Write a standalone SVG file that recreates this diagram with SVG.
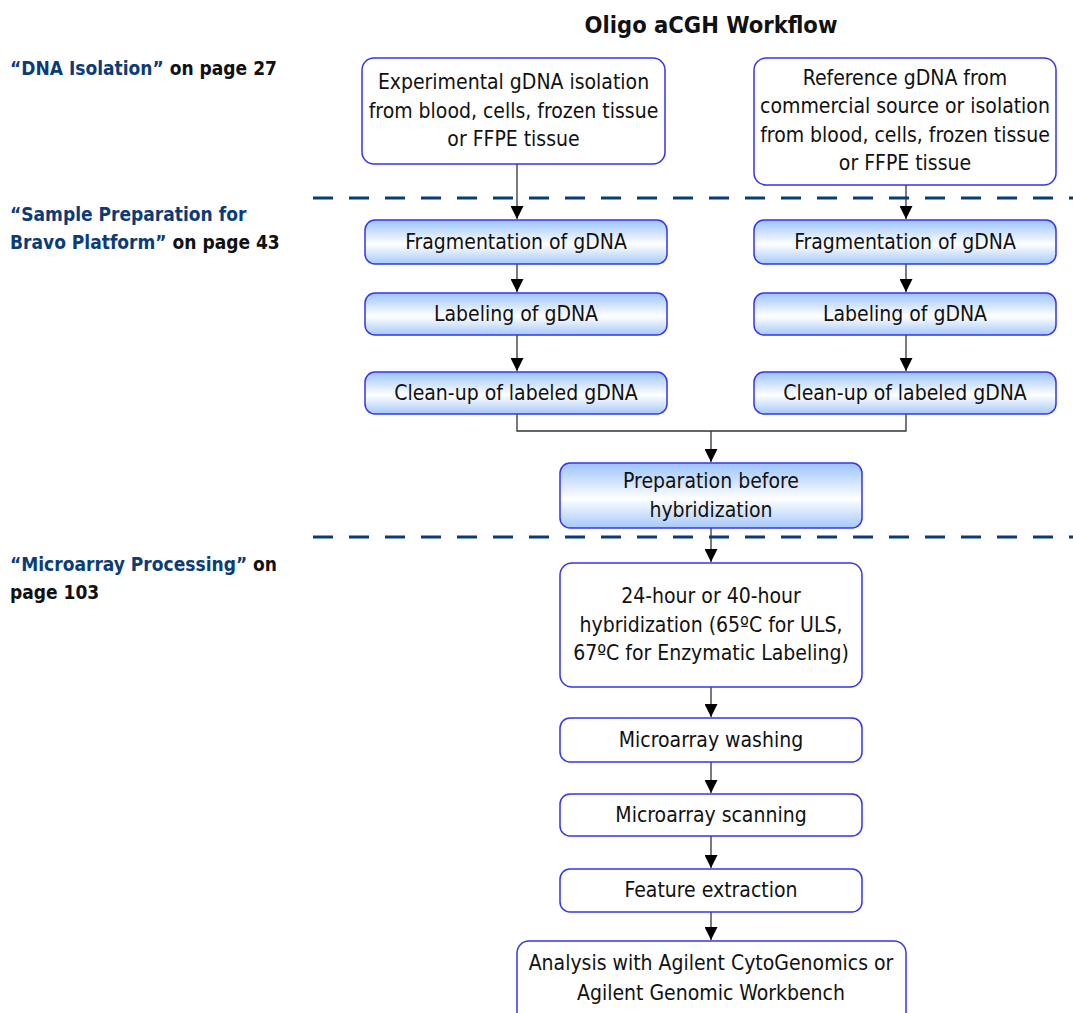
<svg xmlns="http://www.w3.org/2000/svg" width="1073" height="1013" viewBox="0 0 1073 1013">
<style>
.t{font-family:"Liberation Sans Narrow","DejaVu Sans Condensed","Liberation Sans",sans-serif;font-size:21px;fill:#111;text-anchor:middle}
.h{font-family:"Liberation Sans Narrow","DejaVu Sans Condensed","Liberation Sans",sans-serif;font-weight:bold;font-size:19px;fill:#111}
.b{fill:#0b3c78}
.box{fill:#fff;stroke:#3535f0;stroke-width:1.5}
.gbox{fill:url(#g);stroke:#3535f0;stroke-width:1.5}
.c{fill:none;stroke:#333;stroke-width:1.3}
.d{stroke:#0b3c78;stroke-width:3;stroke-dasharray:20 16}
</style>
<defs>
<linearGradient id="g" x1="0" y1="0" x2="0" y2="1">
<stop offset="0" stop-color="#9cc3fb"/>
<stop offset="0.55" stop-color="#ffffff"/>
<stop offset="1" stop-color="#a6c9fb"/>
</linearGradient>
<marker id="a" markerUnits="userSpaceOnUse" markerWidth="14" markerHeight="13" refX="13" refY="6.5" orient="auto">
<path d="M0,0 L13,6.5 L0,13 Z" fill="#000"/>
</marker>
</defs>
<rect width="1073" height="1013" fill="#fff"/>
<text x="711" y="33" class="h" style="font-size:23.5px;text-anchor:middle">Oligo aCGH Workflow</text>
<g id="labels">
<text x="10" y="75" class="h"><tspan class="b">“DNA Isolation”</tspan> on page 27</text>
<text x="10" y="221" class="h"><tspan class="b">“Sample Preparation for</tspan></text>
<text x="10" y="249" class="h"><tspan class="b">Bravo Platform”</tspan> on page 43</text>
<text x="10" y="571" class="h"><tspan class="b">“Microarray Processing”</tspan> on</text>
<text x="10" y="599" class="h">page 103</text>
</g>
<g id="connectors">
<path class="c" d="M517,164 V219" marker-end="url(#a)"/>
<path class="c" d="M906,185 V219" marker-end="url(#a)"/>
<path class="c" d="M517,264 V292" marker-end="url(#a)"/>
<path class="c" d="M906,264 V292" marker-end="url(#a)"/>
<path class="c" d="M517,335 V371" marker-end="url(#a)"/>
<path class="c" d="M906,335 V371" marker-end="url(#a)"/>
<path class="c" d="M517,414 V431 H906 V414"/>
<path class="c" d="M711,431 V462" marker-end="url(#a)"/>
<path class="c" d="M711,528 V562" marker-end="url(#a)"/>
<path class="c" d="M711,687 V717" marker-end="url(#a)"/>
<path class="c" d="M711,762 V793" marker-end="url(#a)"/>
<path class="c" d="M711,836 V868" marker-end="url(#a)"/>
<path class="c" d="M711,912 V940" marker-end="url(#a)"/>
</g>
<g id="dividers">
<line class="d" x1="313" y1="198" x2="1073" y2="198"/>
<line class="d" x1="313" y1="537" x2="1073" y2="537"/>
</g>
<g id="n1"><rect class="box" x="362" y="58" width="303" height="106" rx="12"/>
<text class="t" x="513.5" y="89">Experimental gDNA isolation</text>
<text class="t" x="513.5" y="118">from blood, cells, frozen tissue</text>
<text class="t" x="513.5" y="146">or FFPE tissue</text></g>
<g id="n2"><rect class="box" x="754" y="58" width="302" height="127" rx="12"/>
<text class="t" x="905" y="85">Reference gDNA from</text>
<text class="t" x="905" y="113">commercial source or isolation</text>
<text class="t" x="905" y="142">from blood, cells, frozen tissue</text>
<text class="t" x="905" y="170">or FFPE tissue</text></g>
<g id="n3"><rect class="gbox" x="365" y="220" width="302" height="44" rx="10"/>
<text class="t" x="516" y="249">Fragmentation of gDNA</text></g>
<g id="n4"><rect class="gbox" x="754" y="220" width="302" height="44" rx="10"/>
<text class="t" x="905" y="249">Fragmentation of gDNA</text></g>
<g id="n5"><rect class="gbox" x="365" y="293" width="302" height="42" rx="10"/>
<text class="t" x="516" y="321">Labeling of gDNA</text></g>
<g id="n6"><rect class="gbox" x="754" y="293" width="302" height="42" rx="10"/>
<text class="t" x="905" y="321">Labeling of gDNA</text></g>
<g id="n7"><rect class="gbox" x="365" y="372" width="302" height="42" rx="10"/>
<text class="t" x="516" y="400">Clean-up of labeled gDNA</text></g>
<g id="n8"><rect class="gbox" x="754" y="372" width="302" height="42" rx="10"/>
<text class="t" x="905" y="400">Clean-up of labeled gDNA</text></g>
<g id="n9"><rect class="gbox" x="560" y="463" width="302" height="65" rx="10"/>
<text class="t" x="711" y="488">Preparation before</text>
<text class="t" x="711" y="517">hybridization</text></g>
<g id="n10"><rect class="box" x="560" y="563" width="302" height="124" rx="12"/>
<text class="t" x="711" y="603">24-hour or 40-hour</text>
<text class="t" x="711" y="632">hybridization (65ºC for ULS,</text>
<text class="t" x="711" y="660">67ºC for Enzymatic Labeling)</text></g>
<g id="n11"><rect class="box" x="560" y="718" width="302" height="44" rx="10"/>
<text class="t" x="711" y="747">Microarray washing</text></g>
<g id="n12"><rect class="box" x="560" y="794" width="302" height="42" rx="10"/>
<text class="t" x="711" y="822">Microarray scanning</text></g>
<g id="n13"><rect class="box" x="560" y="869" width="302" height="43" rx="10"/>
<text class="t" x="711" y="897">Feature extraction</text></g>
<g id="n14"><rect class="box" x="517" y="941" width="389" height="90" rx="12"/>
<text class="t" x="711" y="970">Analysis with Agilent CytoGenomics or</text>
<text class="t" x="711" y="1000">Agilent Genomic Workbench</text></g>
</svg>
